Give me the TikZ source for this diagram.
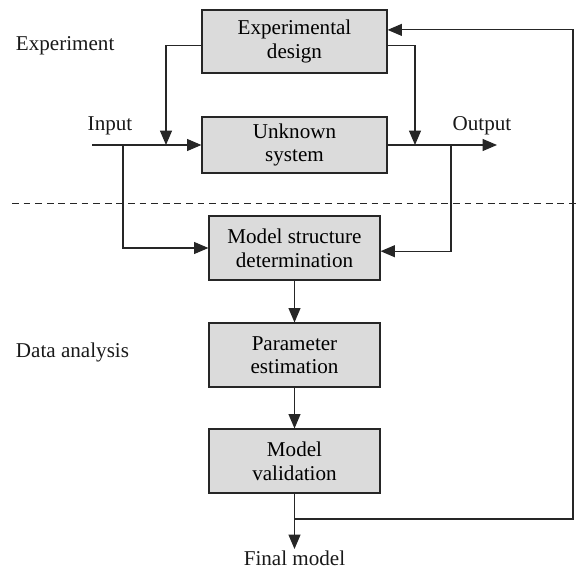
\documentclass[tikz,border=0pt]{standalone}
\usepackage{fontspec}
\setmainfont{Liberation Serif}
\usepackage{tikz}
\usetikzlibrary{arrows.meta}

\begin{document}
\begin{tikzpicture}[x=0.025cm, y=-0.025cm,
        line width=0.8pt, draw=black!85,
        >={Triangle[length=0.36cm,width=0.3cm]},
        blk/.style={draw=black!85, fill=black!14, align=center, inner sep=0pt,
            minimum width=4.275cm, minimum height=1.6cm,
            font=\fontsize{15}{16.8}\selectfont},
        lbl/.style={text=black!90, inner sep=1pt, font=\fontsize{15}{16.8}\selectfont}]
        \useasboundingbox (0,0) rectangle (576,573);
        % Define the nodes
        \node[blk, minimum width=4.625cm, minimum height=1.575cm] (design) at (294.5,41.5) {Experimental\\design};
        \node[blk, minimum width=4.625cm, minimum height=1.4cm]   (system) at (294.5,145)  {Unknown\\system};
        \node[blk] (struct) at (294.5,248) {Model structure\\determination};
        \node[blk] (param)  at (294.5,355) {Parameter\\estimation};
        \node[blk] (valid)  at (294.5,461) {Model\\validation};
        \node[lbl, anchor=west] (exp)  at (14,46)  {Experiment};
        \node[lbl, anchor=west] (data) at (14,352) {Data analysis};
        \node[lbl] (input)  at (110,126) {Input};
        \node[lbl] (output) at (482,126) {Output};
        \node[lbl, anchor=north] (final) at (294.5,549) {Final model};
        \coordinate (in)   at (92,145);
        \coordinate (out)  at (497,145);
        \coordinate (inb)  at (123,145);
        \coordinate (outb) at (451,145);
        \coordinate (dl)   at (166,145);
        \coordinate (dr)   at (415,145);
        \coordinate (fb)   at (294.5,519);
        \coordinate (fbr)  at (573,519);
        % Separator
        \draw[dashed, dash pattern=on 0.17cm off 0.12cm, line width=0.6pt] (12,203) -- (576,203);
        % Connect the nodes
        \draw[->] (in) -- (system.west);
        \draw[->] (system.east) -- (out);
        \draw[->] ([yshift=-0.11cm]design.west) -| (dl);
        \draw[->] ([yshift=-0.11cm]design.east) -| (dr);
        \draw[->] (inb) |- (struct.west);
        \draw[->] (outb) |- ([yshift=-0.08cm]struct.east);
        \draw[->] (struct) -- (param);
        \draw[->] (param) -- (valid);
        \draw[->] (valid) -- (final);
        \draw[->] (fb) -- (fbr) |- ([yshift=0.29cm]design.east);
    \end{tikzpicture}
\end{document}
